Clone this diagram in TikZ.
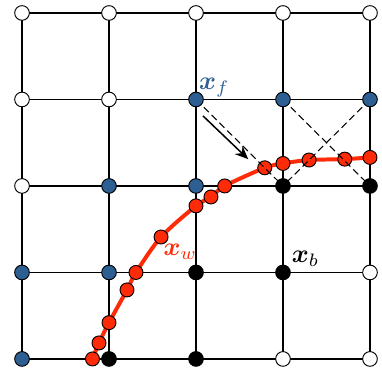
\documentclass[tikz,border=0pt]{standalone}
\usepackage{bm}
\usepackage{tikz}
\usetikzlibrary{arrows.meta}
\definecolor{ptblue}{HTML}{2D5F93}
\definecolor{ptred}{HTML}{FF2B08}

\begin{document}
\begin{tikzpicture}[x=2.61cm, y=2.595cm,
  gridline/.style={draw=black, line width=1.1pt},
  gnode/.style={circle, draw=black, line width=0.8pt, fill=#1, minimum size=0.44cm, inner sep=0pt},
  rnode/.style={circle, draw=black, line width=0.8pt, fill=ptred, minimum size=0.42cm, inner sep=0pt},
  wall/.style={draw=ptred, line width=3.4pt},
  diag/.style={draw=black, line width=0.9pt, dash pattern=on 6pt off 3.4pt},
  arr/.style={-{Stealth[length=4mm, width=3.4mm, inset=1.4mm]}, draw=black, line width=1.3pt},
  lbl/.style={scale=2.2, transform shape, inner sep=1pt}]
\useasboundingbox (-0.253,-0.150) rectangle (4.138,4.150);

% grid lines
\foreach \i in {0,...,4} {
  \draw[gridline] (\i,0) -- (\i,4);
  \draw[gridline] (0,\i) -- (4,\i);
}

% interface curve and its points
\draw[wall] plot[smooth] coordinates {(0.81,0) (0.885,0.185) (1,0.42) (1.207,0.798)
  (1.31,1) (1.598,1.41) (2,1.77) (2.172,1.873) (2.33,2) (2.79,2.21) (3,2.26)
  (3.30,2.30) (3.71,2.31) (4,2.33)};
\foreach \p [count=\k] in {(0.81,0),(0.885,0.185),(1,0.42),(1.207,0.798),
  (1.31,1),(1.598,1.41),(2,1.77),(2.172,1.873),(2.33,2),(2.79,2.21),(3,2.26),
  (3.30,2.30),(3.71,2.31),(4,2.33)}
  \node[rnode] (w-\k) at \p {};

% grid points
\foreach \i in {0,...,4}
  \foreach \j in {0,...,4}
    \coordinate (c-\i-\j) at (\i,\j);

% extrapolation directions
\draw[diag] (c-2-3) -- (c-3-2);
\draw[diag] (c-3-3) -- (c-4-2);
\draw[diag] (c-4-3) -- (c-3-2);
\coordinate (arrs) at (2.08,2.81);
\coordinate (arre) at (2.60,2.31);
\draw[arr] (arrs) -- (arre);

\foreach \i/\j/\c in {0/4/white,1/4/white,2/4/white,3/4/white,4/4/white,
  0/3/white,1/3/white,2/3/ptblue,3/3/ptblue,4/3/ptblue,
  0/2/white,1/2/ptblue,2/2/ptblue,3/2/black,4/2/black,
  0/1/ptblue,1/1/ptblue,2/1/black,3/1/black,4/1/white,
  0/0/ptblue,1/0/black,2/0/black,3/0/white,4/0/white}
  \node[gnode=\c] (g-\i-\j) at (c-\i-\j) {};

% labels
\node[lbl, text=ptblue] (xf) at (2.21,3.14) {$\bm{x}_f$};
\node[lbl, text=ptred] (xw) at (1.82,1.24) {$\bm{x}_w$};
\node[lbl, text=black] (xb) at (3.26,1.16) {$\bm{x}_b$};
\end{tikzpicture}
\end{document}
